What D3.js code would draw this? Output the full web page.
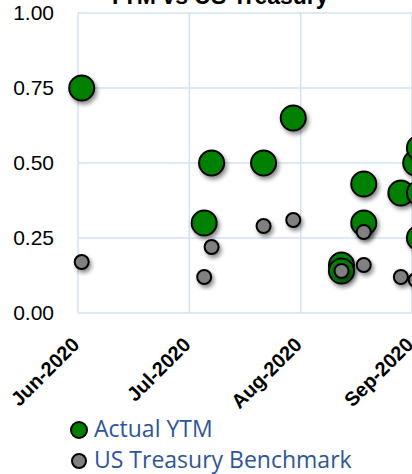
<!DOCTYPE html>
<html>
<head>
<meta charset="utf-8">
<script src="https://cdn.jsdelivr.net/npm/d3@7"></script>
<style>
  html, body { margin: 0; padding: 0; background: #fff; overflow: hidden; }
  svg { display: block; }
</style>
</head>
<body>
<svg id="chart" width="412" height="474"></svg>
<script>
// ---- Data ----
const chartTitle = "YTM vs US Treasury";
const axisStartDate = "2020-06-01";
const xTickDays = [0, 30, 60, 90];
const xTickLabels = ["Jun-2020", "Jul-2020", "Aug-2020", "Sep-2020"];
const yTickValues = [0, 0.25, 0.5, 0.75, 1.0];

const ytmDates = ["2020-06-02", "2020-07-05", "2020-07-07", "2020-07-21", "2020-07-29",
                  "2020-08-11", "2020-08-11", "2020-08-17", "2020-08-17", "2020-08-27",
                  "2020-08-31", "2020-09-01", "2020-09-01", "2020-09-01"];
const ytmValues = [0.75, 0.30, 0.50, 0.50, 0.65,
                   0.16, 0.14, 0.43, 0.30, 0.40,
                   0.50, 0.55, 0.40, 0.25];

const tsyDates = ["2020-06-02", "2020-07-05", "2020-07-07", "2020-07-21", "2020-07-29",
                  "2020-08-11", "2020-08-17", "2020-08-17", "2020-08-27", "2020-08-31"];
const tsyValues = [0.17, 0.12, 0.22, 0.29, 0.31,
                   0.14, 0.27, 0.16, 0.12, 0.11];

const seriesNames = ["Actual YTM", "US Treasury Benchmark"];
const seriesColors = ["#008000", "#808080"];

// ---- Layout ----
const svg = d3.select("#chart");
const plotLeft = 78, plotTop = 13, plotBottom = 313, plotRightVisible = 412;

const parse = d3.timeParse("%Y-%m-%d");
const start = parse(axisStartDate);
const dayOf = s => d3.timeDay.count(start, parse(s));

const x = d3.scaleLinear().domain([0, 90]).range([plotLeft, plotRightVisible]);
const y = d3.scaleLinear().domain([0, 1]).range([plotBottom, plotTop]);

const defs = svg.append("defs");
const f = defs.append("filter").attr("id", "shadow")
  .attr("x", "-50%").attr("y", "-50%").attr("width", "200%").attr("height", "200%");
f.append("feDropShadow").attr("dx", 2).attr("dy", 3).attr("stdDeviation", 2)
  .attr("flood-color", "#000").attr("flood-opacity", 0.45);

// Gridlines
const gridColor = "#D5E1F2";
svg.append("g").selectAll("line").data(yTickValues).join("line")
  .attr("x1", plotLeft).attr("x2", 600)
  .attr("y1", d => y(d)).attr("y2", d => y(d))
  .attr("stroke", gridColor).attr("stroke-width", 1.5);
svg.append("g").selectAll("line").data(xTickDays).join("line")
  .attr("x1", d => x(d)).attr("x2", d => x(d))
  .attr("y1", plotTop).attr("y2", plotBottom)
  .attr("stroke", gridColor).attr("stroke-width", 1.5);

// Y axis
const yAxis = d3.axisLeft(y).tickValues(yTickValues).tickFormat(d3.format(".2f")).tickSize(0).tickPadding(24);
const gy = svg.append("g").attr("transform", `translate(${plotLeft},0)`).call(yAxis);
gy.select(".domain").remove();
gy.selectAll("text").attr("font-family", "Arial, 'Liberation Sans', sans-serif")
  .attr("font-size", 21).attr("fill", "#000");

// X axis
const xAxis = d3.axisBottom(x).tickValues(xTickDays).tickFormat((d, i) => xTickLabels[i]).tickSize(0);
const gx = svg.append("g").attr("transform", `translate(0,${plotBottom})`).call(xAxis);
gx.select(".domain").remove();
gx.selectAll("text")
  .attr("font-family", "Arial, 'Liberation Sans', sans-serif")
  .attr("font-size", 20).attr("font-weight", "bold").attr("fill", "#000")
  .attr("text-anchor", "end")
  .attr("dy", null).attr("y", null)
  .attr("transform", "translate(2,33) rotate(-45)");

// Title
svg.append("text").attr("x", 218).attr("y", 4)
  .attr("text-anchor", "middle")
  .attr("font-family", "Arial, 'Liberation Sans', sans-serif")
  .attr("font-size", 23).attr("font-weight", "bold").attr("fill", "#000")
  .text(chartTitle);

// Points
const gPts = svg.append("g");
gPts.selectAll("circle.ytm").data(ytmDates.map((d, i) => ({ d: dayOf(d), v: ytmValues[i] })))
  .join("circle").attr("class", "ytm")
  .attr("cx", p => x(p.d)).attr("cy", p => y(p.v)).attr("r", 12.5)
  .attr("fill", seriesColors[0]).attr("stroke", "#000").attr("stroke-width", 2)
  .attr("filter", "url(#shadow)");
gPts.selectAll("circle.tsy").data(tsyDates.map((d, i) => ({ d: dayOf(d), v: tsyValues[i] })))
  .join("circle").attr("class", "tsy")
  .attr("cx", p => x(p.d)).attr("cy", p => y(p.v)).attr("r", 7)
  .attr("fill", seriesColors[1]).attr("stroke", "#000").attr("stroke-width", 2)
  .attr("filter", "url(#shadow)");

// Legend
const legend = svg.append("g");
const legendY = [430, 461];
const legendR = [8, 7];
seriesNames.forEach((name, i) => {
  legend.append("circle").attr("cx", 79).attr("cy", legendY[i]).attr("r", legendR[i])
    .attr("fill", seriesColors[i]).attr("stroke", "#000").attr("stroke-width", 2);
  legend.append("text").attr("x", 94).attr("y", legendY[i] + 7)
    .attr("font-family", "'Open Sans', sans-serif").attr("font-size", 23)
    .attr("fill", "#2F5597").text(name);
});
</script>
</body>
</html>
